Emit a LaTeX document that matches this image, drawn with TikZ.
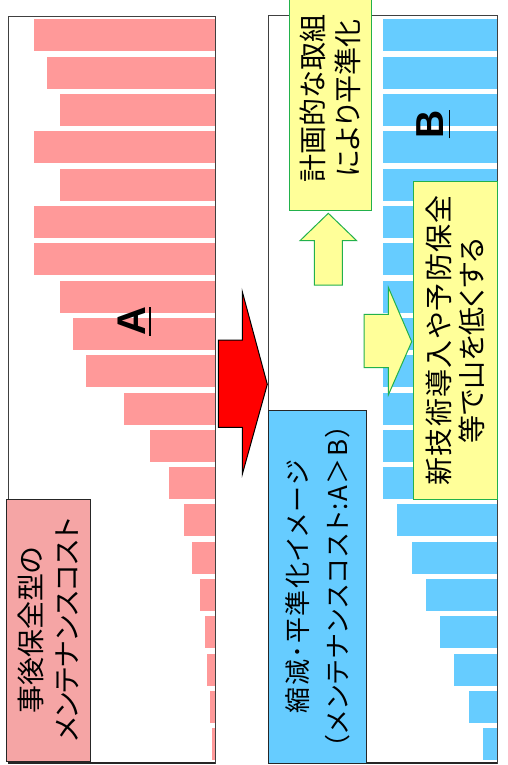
\documentclass[tikz,border=0pt]{standalone}
\usepackage{fontspec}
\newfontfamily\jp[RawFeature=+palt]{Noto Sans CJK JP}
\newfontfamily\lab{Liberation Sans}
\definecolor{barred}{HTML}{FF9999}
\definecolor{pinkbox}{HTML}{F5A5A5}
\definecolor{barblue}{HTML}{66CCFF}
\definecolor{lightyellow}{HTML}{FFFF99}
\definecolor{boxgreen}{HTML}{22B14C}
\definecolor{framegray}{HTML}{404040}
\newcommand\myul[2]{\setbox0\hbox{#1}\rlap{\copy0}\rule[-#2pt]{\wd0}{1.5pt}}
\begin{document}
\begin{tikzpicture}[x=1pt,y=-1pt,
  frame/.style={draw=framegray,line width=1pt},
  axisline/.style={draw=black!85,line width=1.8pt},
  redbar/.style={fill=barred},
  bluebar/.style={fill=barblue},
  lbox/.style={draw=black!85,line width=1pt,rotate=90,inner sep=0pt,align=center},
  ybox/.style={draw=boxgreen,fill=lightyellow,line width=1pt,rotate=90,inner sep=0pt,align=center},
  yarrow/.style={draw=boxgreen,fill=lightyellow,line width=1pt,line join=miter},
  redarrow/.style={draw=black,fill=red,line width=1pt,line join=miter},
  biglabel/.style={rotate=90,inner sep=0pt,anchor=base,font=\lab\bfseries\fontsize{40}{40}\selectfont}
]
\useasboundingbox (0,0) rectangle (508,765);
\fill[white] (0,0) rectangle (508,765);

% ---------- left panel ----------
\foreach \xl [count=\k from 0] in {34,47,60,34,60,34,34,60,73,86,124.3,150.3,168.7,184,191.7,199.7,205,207.3,210,212.3}
  \fill[redbar] ({\xl},{19.5+37.3*\k}) rectangle (215,{51.5+37.3*\k});
\draw[frame] (8,17) rectangle (215,763);
\draw[axisline] (8,763) -- (215,763);

\node[lbox,fill=pinkbox,minimum width=261.7pt,minimum height=84.7pt,
      font=\jp\fontsize{28}{36}\selectfont] (pinklabel) at (48.35,630.15)
  {事後保全型の\\メンテナンスコスト};

\node[biglabel] (labA) at (145,321.5) {\myul{A}{5.75}};

% ---------- red arrow ----------
\draw[redarrow] (218.3,340) -- (242.3,340) -- (242.3,291.7) -- (267.3,384.3)
  -- (242.3,474.3) -- (242.3,427.3) -- (218.3,427.3) -- cycle;

% ---------- right panel ----------
\foreach \xl [count=\k from 0] in {383.3,383.3,383.3,383.3,383.3,383.3,383.3,383.3,383.3,383.3,383.3,383.3,383.3,397,411.7,425.7,440,454.3,468.7,483}
  \fill[bluebar] ({\xl},{19.5+37.3*\k}) rectangle (497.3,{51.5+37.3*\k});
\draw[frame] (268.3,15.7) rectangle (497.3,763);
\draw[axisline] (268.3,763) -- (497.3,763);

\node[lbox,fill=barblue,minimum width=353pt,minimum height=98.4pt,
      font=\jp\fontsize{26}{40}\selectfont] (bluelabel) at (317.5,586.5)
  {縮\kern1.5pt 減\kern1.5pt ･\kern1.5pt 平\kern1.5pt 準\kern1.5pt 化\kern1.5pt イ\kern1.5pt メ\kern1.5pt ー\kern1.5pt ジ\\
   （\kern1.6pt メ\kern1.6pt ン\kern1.6pt テ\kern1.6pt ナ\kern1.6pt ン\kern1.6pt ス\kern1.6pt コ\kern1.6pt ス\kern1.6pt ト\kern1.6pt :\kern1.6pt A\kern1.6pt ＞\kern1.6pt B\kern1.6pt ）};

\node[ybox,minimum width=224.7pt,minimum height=82.7pt,
      font=\jp\fontsize{28}{35}\selectfont] (plan) at (330.35,98.35)
  {計画的な取組\\により平準化};

\draw[yarrow] (314.3,285) -- (314.3,240.7) -- (300,240.7) -- (328.3,213.3)
  -- (356.7,240.7) -- (342.3,240.7) -- (342.3,285) -- cycle;

\draw[yarrow] (364,314.3) -- (388.3,314.3) -- (388.3,287.3) -- (411.7,341.7)
  -- (388.3,395) -- (388.3,367.7) -- (364,367.7) -- cycle;

\node[ybox,minimum width=317.3pt,minimum height=84pt,
      font=\jp\fontsize{28}{33.5}\selectfont] (newtech) at (455.3,340.35)
  {新\kern1.3pt 技\kern1.3pt 術\kern1.3pt 導\kern1.3pt 入\kern1.3pt や\kern1.3pt 予\kern1.3pt 防\kern1.3pt 保\kern1.3pt 全\\等で山を低くする};

\node[biglabel,font=\lab\bfseries\fontsize{39}{39}\selectfont] (labB) at (443.3,124.2) {\myul{B}{6.75}};
\end{tikzpicture}
\end{document}
